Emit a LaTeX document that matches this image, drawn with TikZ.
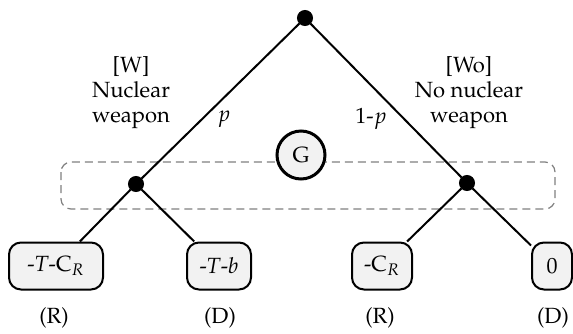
\documentclass[tikz,border=0pt]{standalone}
\usepackage[T1]{fontenc}
\usepackage{mathpazo}

\definecolor{leafgray}{HTML}{F2F2F2}
\definecolor{setgray}{HTML}{808080}

\begin{document}
\begin{tikzpicture}[
    x=0.5pt, y=-0.5pt,
    line width=1pt,
    every node/.style={font=\fontsize{11}{12.5}\selectfont,text=black},
    decision/.style={draw, fill=black, circle, inner sep=0pt, minimum size=7pt},
    nature/.style={draw, line width=1.5pt, fill=leafgray, circle, inner sep=0pt, minimum size=24pt},
    payoff/.style={draw, fill=leafgray, rounded corners=6pt, minimum height=23.5pt, inner sep=2pt},
    branch/.style={draw=black},
    infoset/.style={draw=setgray, line width=0.6pt, dash pattern=on 4pt off 2.5pt, rounded corners=5pt},
    choice/.style={align=center}
  ]
  \useasboundingbox (0,0) rectangle (573,333);

  %--------------------------------------
  % 1) information set of player G
  %--------------------------------------
  \draw[infoset] (61,162) rectangle (555,209);

  %--------------------------------------
  % 2) decision points
  %--------------------------------------
  \node[decision] (root) at (305,18) {};
  \node[decision] (W)    at (136,184) {};
  \node[decision] (Wo)   at (467,183) {};

  % Player G, sitting on the dashed set
  \node[nature] (G) at (301,155) {G};

  %--------------------------------------
  % 3) end points with payoffs
  %--------------------------------------
  \node[payoff, minimum width=47pt] (WR)  at (56,266)  {-\textit{T}-C$_R$};
  \node[payoff, minimum width=32pt] (WD)  at (219,266) {-\textit{T}-\textit{b}};
  \node[payoff, minimum width=30pt] (WoR) at (382,266) {-C$_R$};
  \node[payoff, minimum width=20pt] (WoD) at (552,266) {0};

  % who acts
  \node (WRx)  at (54,318)  {(R)};
  \node (WDx)  at (220,318) {(D)};
  \node (WoRx) at (380,318) {(R)};
  \node (WoDx) at (553,318) {(D)};

  %--------------------------------------
  % 4) branches
  %--------------------------------------
  \draw[branch] (root) -- (W);
  \draw[branch] (root) -- (Wo);
  \draw[branch] (W) -- (WR);
  \draw[branch] (W) -- (WD);
  \draw[branch] (Wo) -- (WoR);
  \draw[branch] (Wo) -- (WoD);

  % labels of the first move
  \node[choice] (Wtxt)  at (131,93) {[W]\\Nuclear\\weapon};
  \node[choice] (Wotxt) at (469,93) {[Wo]\\No nuclear\\weapon};
  \node (pW)  at (224,119) {$p$};
  \node (pWo) at (371,119) {1-$p$};

\end{tikzpicture}
\end{document}
